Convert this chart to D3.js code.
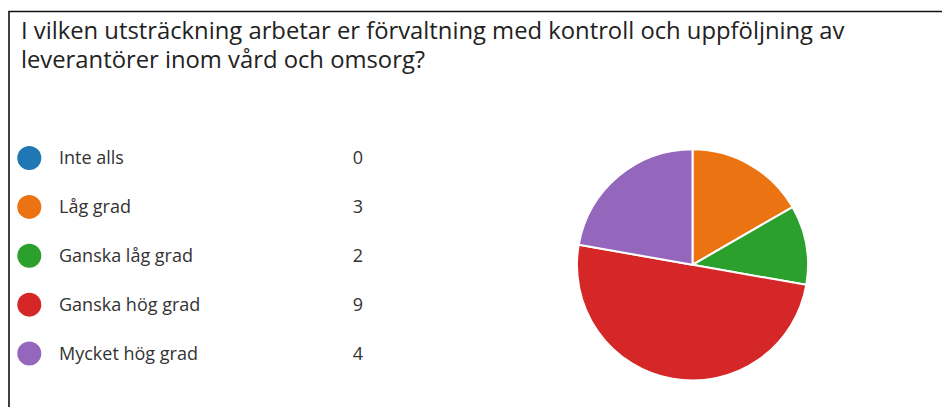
<!DOCTYPE html>
<html>
<head>
<meta charset="utf-8">
<script src="https://cdn.jsdelivr.net/npm/d3@7"></script>
<style>
  html, body { margin: 0; padding: 0; background: #fff; }
  svg { display: block; }
  text { font-family: "Open Sans", "Noto Sans", sans-serif; }
</style>
</head>
<body>
<svg></svg>
<script>
// survey answers
var categories = ["Inte alls", "Låg grad", "Ganska låg grad", "Ganska hög grad", "Mycket hög grad"]
var counts = [0, 3, 2, 9, 4]
var colors = ["#1f77b4", "#ec7311", "#2ca02c", "#d62728", "#9467bd"]
var titleLines = [
  "I vilken utsträckning arbetar er förvaltning med kontroll och uppföljning av",
  "leverantörer inom vård och omsorg?"
]

var width = 942
var height = 407

var svg = d3.select('svg')
svg.attr('width', width).attr('height', height)

// frame (left + top edge only, right side is cut off)
svg.append('path')
  .attr('d', 'M9,' + height + ' V11.5 H' + width)
  .attr('fill', 'none')
  .attr('stroke', '#111')
  .attr('stroke-width', 1.6)

// title
svg.append('g')
  .selectAll('text')
  .data(titleLines)
  .enter().append('text')
    .attr('x', 21)
    .attr('y', function (d, i) { return 38.5 + i * 29.5 })
    .attr('font-size', 23.8)
    .attr('fill', '#222')
    .text(function (d) { return d })

// legend
var legendY = d3.scalePoint()
  .domain(categories)
  .range([158, 353.5])

var legend = svg.append('g')
  .selectAll('g')
  .data(categories)
  .enter().append('g')
    .attr('transform', function (d) { return 'translate(0,' + legendY(d) + ')' })

legend.append('circle')
  .attr('cx', 29.3)
  .attr('r', 12)
  .attr('fill', function (d, i) { return colors[i] })

legend.append('text')
  .attr('x', 59)
  .attr('dy', '0.35em')
  .attr('font-size', 18)
  .attr('fill', '#333')
  .text(function (d) { return d })

legend.append('text')
  .attr('x', 363)
  .attr('dy', '0.35em')
  .attr('font-size', 18)
  .attr('text-anchor', 'end')
  .attr('fill', '#333')
  .text(function (d, i) { return counts[i] })

// pie
var pie = d3.pie().sort(null).value(function (d) { return d })
var arc = d3.arc().innerRadius(0).outerRadius(115.5)

svg.append('g')
  .attr('transform', 'translate(692.5,264.8)')
  .selectAll('path')
  .data(pie(counts).filter(function (d) { return d.value > 0 }))
  .enter().append('path')
    .attr('d', arc)
    .attr('fill', function (d) { return colors[d.index] })
    .attr('stroke', '#fff')
    .attr('stroke-width', 2)
</script>
</body>
</html>
